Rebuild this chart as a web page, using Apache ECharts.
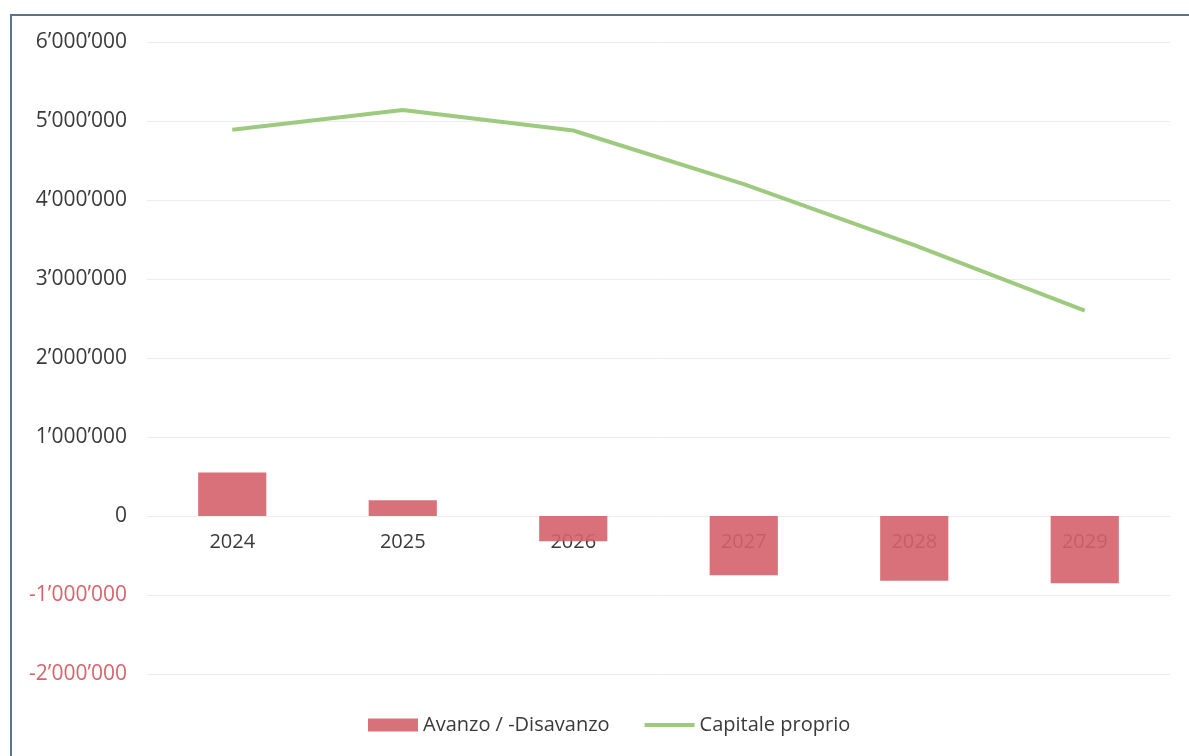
<!DOCTYPE html>
<html>
<head>
<meta charset="utf-8">
<script src="https://cdn.jsdelivr.net/npm/echarts@6/dist/echarts.min.js"></script>
<style>
  html, body { margin: 0; padding: 0; background: #ffffff; }
  #chart { width: 1189px; height: 756px; }
</style>
</head>
<body>
<div id="chart"></div>
<script>
// Years on the category axis
const years = ['2024', '2025', '2026', '2027', '2028', '2029'];
// Annual surplus / deficit (CHF)
const avanzo = [550000, 200000, -320000, -750000, -820000, -850000];
// Equity at year end (CHF)
const capitale = [4890000, 5140000, 4880000, 4200000, 3430000, 2600000];
// Value axis ticks
const yTicks = [-2000000, -1000000, 0, 1000000, 2000000, 3000000, 4000000, 5000000, 6000000];

const FONT = '"Open Sans", "Noto Sans", sans-serif';

// Swiss-style thousands separator
function fmt(v) {
  const s = Math.abs(v).toString().replace(/\B(?=(\d{3})+(?!\d))/g, '\u2019');
  return (v < 0 ? '-' : '') + s;
}

const chart = echarts.init(document.getElementById('chart'), null, { renderer: 'canvas' });

chart.setOption({
  backgroundColor: '#ffffff',
  animation: false,
  graphic: [{
    type: 'rect',
    silent: true,
    shape: { x: 11, y: 15, width: 1300, height: 900 },
    style: { fill: 'none', stroke: '#5b7190', lineWidth: 2 },
    z: 100
  }],
  grid: { left: 147, right: 19, top: 42, bottom: 82, containLabel: false },
  legend: {
    bottom: 16,
    left: 363,
    itemWidth: 50,
    itemHeight: 13,
    itemGap: 35,
    symbolKeepAspect: true,
    textStyle: { fontFamily: FONT, fontSize: 20, color: '#3a3a3a' },
    data: [
      { name: 'Avanzo / -Disavanzo', icon: 'rect' },
      { name: 'Capitale proprio', icon: 'path://M0,0H50V4H0Z' }
    ]
  },
  xAxis: {
    type: 'category',
    data: years,
    position: 'bottom',
    axisLine: { show: false, onZero: false },
    axisTick: { show: false },
    axisLabel: { fontFamily: FONT, fontSize: 20, color: '#3a3a3a', margin: 16 },
    splitLine: { show: false }
  },
  yAxis: {
    type: 'value',
    min: yTicks[0],
    max: yTicks[yTicks.length - 1],
    interval: 1000000,
    axisLine: { show: false },
    axisTick: { show: false },
    splitLine: { lineStyle: { color: '#ececec', width: 1 } },
    axisLabel: {
      fontFamily: FONT,
      fontSize: 21,
      margin: 20,
      formatter: fmt,
      color: function (v) { return Number(v) < 0 ? '#d9636c' : '#3a3a3a'; }
    }
  },
  series: [
    {
      name: 'Avanzo / -Disavanzo',
      type: 'bar',
      data: avanzo,
      barWidth: '40%',
      itemStyle: { color: '#d5626b', opacity: 0.9 },
      z: 3
    },
    {
      name: 'Capitale proprio',
      type: 'line',
      data: capitale,
      symbol: 'none',
      lineStyle: { color: '#9dca7e', width: 4 },
      itemStyle: { color: '#9dca7e' },
      z: 4
    }
  ]
});

// Move the year labels up to the zero line of the value axis
const yZero = chart.convertToPixel({ yAxisIndex: 0 }, 0);
const yMin = chart.convertToPixel({ yAxisIndex: 0 }, yTicks[0]);
chart.setOption({ xAxis: { offset: yZero - yMin } });
</script>
</body>
</html>
